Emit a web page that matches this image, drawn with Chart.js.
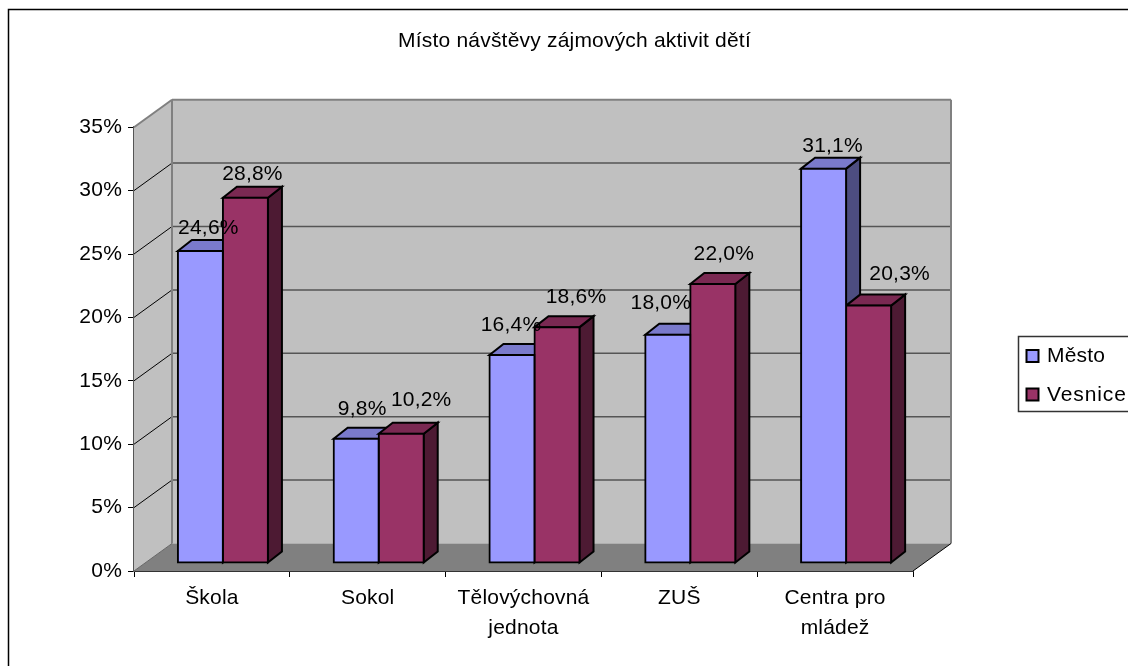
<!DOCTYPE html>
<html>
<head>
<meta charset="utf-8">
<title>Místo návštěvy zájmových aktivit dětí</title>
<script src="https://cdn.jsdelivr.net/npm/chart.js@4"></script>
<style>
  html, body { margin: 0; padding: 0; background: #fff; overflow: hidden; }
  canvas { display: block; }
</style>
</head>
<body>
<canvas id="chart" width="1128" height="666"></canvas>
<script>
const categories = ['Škola', 'Sokol', ['Tělovýchovná', 'jednota'], 'ZUŠ', ['Centra pro', 'mládež']];
const mesto = [24.6, 9.8, 16.4, 18.0, 31.1];
const vesnice = [28.8, 10.2, 18.6, 22.0, 20.3];
const yTicks = [0, 5, 10, 15, 20, 25, 30, 35];

// posun popisku proti stredu horni steny sloupce (v originale rucne posunute)
const mestoLabelDx = [1, -1, -8, -14, 2];
const mestoLabelGap = [6, 13, 13, 15, 6];
const vesniceLabelDx = [0, 13, 12, 4, 24];
const vesniceLabelGap = [7, 17, 13, 13, 15];

const FONT = '"Liberation Sans", Arial, sans-serif';
const FONT_SIZE = 21;
const wall = { dx: 38, dy: -27.5 };  // hloubka cele sceny
const barShift = { dx: 11, dy: -8 }; // predni stena sloupcu proti predni hrane podlahy
const barDepth = { dx: 14, dy: -11 };

function poly(ctx, pts, fill, stroke, lw) {
    ctx.beginPath();
    pts.forEach((p, i) => i ? ctx.lineTo(p[0], p[1]) : ctx.moveTo(p[0], p[1]));
    ctx.closePath();
    if (fill) { ctx.fillStyle = fill; ctx.fill(); }
    if (stroke) { ctx.strokeStyle = stroke; ctx.lineWidth = lw; ctx.lineJoin = 'miter'; ctx.stroke(); }
}

function line(ctx, x1, y1, x2, y2, color, lw) {
    ctx.beginPath();
    ctx.moveTo(x1, y1);
    ctx.lineTo(x2, y2);
    ctx.strokeStyle = color;
    ctx.lineWidth = lw;
    ctx.stroke();
}

const frame3d = {
    id: 'frame3d',
    afterLayout(chart) {
        // nadpis je v originale na stredu celeho ramecku, ne nad osami
        chart.titleBlock.left = 0;
        chart.titleBlock.right = 1149;
    },
    beforeDraw(chart) {
        const ctx = chart.ctx;
        ctx.letterSpacing = '0.2px';
        ctx.save();
        ctx.strokeStyle = '#000';
        ctx.lineWidth = 1.5;
        ctx.strokeRect(8.5, 9.5, 1140, 690);
        ctx.restore();
    },
    beforeDatasetsDraw(chart) {
        const ctx = chart.ctx;
        const a = chart.chartArea;
        const y = chart.scales.y;
        ctx.save();

        // steny a podlaha
        poly(ctx, [[a.left, a.bottom], [a.left, a.top], [a.left + wall.dx, a.top + wall.dy], [a.left + wall.dx, a.bottom + wall.dy]], '#c0c0c0');
        poly(ctx, [[a.left + wall.dx, a.top + wall.dy], [a.right + wall.dx, a.top + wall.dy], [a.right + wall.dx, a.bottom + wall.dy], [a.left + wall.dx, a.bottom + wall.dy]], '#c0c0c0');
        poly(ctx, [[a.left, a.bottom], [a.right, a.bottom], [a.right + wall.dx, a.bottom + wall.dy], [a.left + wall.dx, a.bottom + wall.dy]], '#808080');

        // mrizka
        yTicks.forEach(t => {
            if (t === 0 || t === 35) return;
            const py = y.getPixelForValue(t);
            line(ctx, a.left, py, a.left + wall.dx, py + wall.dy, '#000', 1);
            line(ctx, a.left + wall.dx, py + wall.dy, a.right + wall.dx, py + wall.dy, '#555', 1.5);
        });

        // hrany sten
        line(ctx, a.left, a.top, a.left + wall.dx, a.top + wall.dy, '#808080', 2);
        line(ctx, a.left + wall.dx, a.top + wall.dy, a.right + wall.dx, a.top + wall.dy, '#808080', 2);
        line(ctx, a.left + wall.dx, a.top + wall.dy, a.left + wall.dx, a.bottom + wall.dy, '#808080', 2);
        line(ctx, a.right + wall.dx, a.top + wall.dy, a.right + wall.dx, a.bottom + wall.dy, '#808080', 2);
        line(ctx, a.left, a.bottom, a.left + wall.dx, a.bottom + wall.dy, '#666', 1);
        line(ctx, a.right, a.bottom, a.right + wall.dx, a.bottom + wall.dy, '#000', 1);

        // horni a bocni steny sloupcu
        chart.data.datasets.forEach((ds, di) => {
            chart.getDatasetMeta(di).data.forEach(bar => {
                const half = bar.width / 2;
                const l = bar.x - half + barShift.dx;
                const r = bar.x + half + barShift.dx;
                const t = bar.y + barShift.dy;
                const b = bar.base + barShift.dy;
                poly(ctx, [[r, t], [r + barDepth.dx, t + barDepth.dy], [r + barDepth.dx, b + barDepth.dy], [r, b]], ds.sideColor, '#000', 2);
                poly(ctx, [[l, t], [l + barDepth.dx, t + barDepth.dy], [r + barDepth.dx, t + barDepth.dy], [r, t]], ds.topColor, '#000', 2);
            });
        });
        ctx.restore();

        // predni steny kresli Chart.js, jen posunute do hloubky
        ctx.save();
        ctx.translate(barShift.dx, barShift.dy);
    },
    afterDatasetsDraw(chart) {
        const ctx = chart.ctx;
        ctx.restore();
        ctx.save();
        ctx.font = FONT_SIZE + 'px ' + FONT;
        ctx.fillStyle = '#000';
        ctx.textAlign = 'center';
        ctx.textBaseline = 'alphabetic';
        chart.data.datasets.forEach((ds, di) => {
            chart.getDatasetMeta(di).data.forEach((bar, i) => {
                const txt = ds.data[i].toFixed(1).replace('.', ',') + '%';
                const x = bar.x + barShift.dx + barDepth.dx / 2 + ds.labelDx[i];
                const yy = bar.y + barShift.dy + barDepth.dy - ds.labelGap[i];
                ctx.fillText(txt, x, yy);
            });
        });

        // legenda
        ctx.textAlign = 'left';
        ctx.strokeStyle = '#333';
        ctx.lineWidth = 1.5;
        ctx.strokeRect(1018.5, 336.5, 130, 75);
        chart.data.datasets.forEach((ds, di) => {
            const top = 350 + di * 38.5;
            poly(ctx, [[1026.5, top], [1038.5, top], [1038.5, top + 12], [1026.5, top + 12]], ds.backgroundColor, '#000', 2);
            ctx.fillStyle = '#000';
            ctx.letterSpacing = di ? '0.9px' : '0.2px';
            ctx.fillText(ds.label, 1047, top + 12);
        });
        ctx.restore();
    }
};

new Chart(document.getElementById('chart').getContext('2d'), {
    type: 'bar',
    data: {
        labels: categories,
        datasets: [
            { label: 'Město', data: mesto, backgroundColor: '#9999ff', topColor: '#7a7acc', sideColor: '#4d4d80', labelDx: mestoLabelDx, labelGap: mestoLabelGap },
            { label: 'Vesnice', data: vesnice, backgroundColor: '#993366', topColor: '#7a2952', sideColor: '#4d1a33', labelDx: vesniceLabelDx, labelGap: vesniceLabelGap }
        ]
    },
    plugins: [frame3d],
    options: {
        responsive: false,
        animation: false,
        layout: { padding: { left: 21, right: 215, top: 0, bottom: 0 } },
        font: { family: FONT, size: FONT_SIZE },
        datasets: {
            bar: {
                borderColor: '#000',
                borderWidth: 2,
                borderSkipped: false,
                inflateAmount: 1,
                categoryPercentage: 0.578,
                barPercentage: 1,
                clip: false
            }
        },
        plugins: {
            legend: { display: false },
            tooltip: { enabled: false },
            title: {
                display: true,
                text: 'Místo návštěvy zájmových aktivit dětí',
                color: '#000',
                font: { family: FONT, size: FONT_SIZE, weight: 'normal' },
                padding: { top: 29, bottom: 73 }
            }
        },
        scales: {
            x: {
                afterFit: s => { s.height = 95; },
                grid: { drawOnChartArea: false, offset: true, color: '#000', tickLength: 6 },
                border: { color: '#333', width: 2 },
                ticks: {
                    color: '#000',
                    autoSkip: false,
                    maxRotation: 0,
                    padding: 6,
                    font: { family: FONT, size: FONT_SIZE, lineHeight: 1.45 }
                }
            },
            y: {
                min: 0,
                max: 35,
                afterFit: s => { s.width = 113; },
                grid: { drawOnChartArea: false, color: '#000', tickLength: 6 },
                border: { color: '#555', width: 2 },
                ticks: {
                    color: '#000',
                    stepSize: 5,
                    padding: 6,
                    font: { family: FONT, size: FONT_SIZE },
                    callback: v => v + '%'
                }
            }
        }
    }
});
</script>
</body>
</html>
